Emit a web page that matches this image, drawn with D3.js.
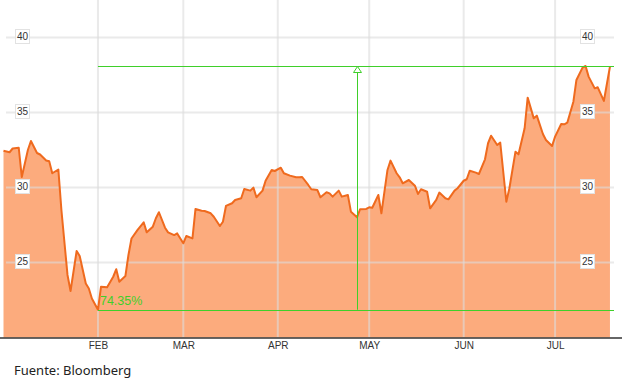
<!DOCTYPE html>
<html>
<head>
<meta charset="utf-8">
<script src="https://cdn.jsdelivr.net/npm/d3@7"></script>
<style>
  body { margin: 0; background: #fff; }
  #chart svg { display: block; }
</style>
</head>
<body>
<div id="chart"></div>
<script>
// price series
const dates = [
  '2015-01-01','2015-01-03','2015-01-04','2015-01-06','2015-01-07','2015-01-09','2015-01-10','2015-01-12',
  '2015-01-13','2015-01-15','2015-01-16','2015-01-17','2015-01-19','2015-01-20','2015-01-22','2015-01-23',
  '2015-01-25','2015-01-26','2015-01-28','2015-01-29','2015-01-30','2015-02-01','2015-02-02','2015-02-04',
  '2015-02-06','2015-02-07','2015-02-08','2015-02-10','2015-02-11','2015-02-12','2015-02-14','2015-02-16',
  '2015-02-17','2015-02-19','2015-02-20','2015-02-21','2015-02-23','2015-02-24','2015-02-26','2015-02-27',
  '2015-03-01','2015-03-02','2015-03-04','2015-03-05','2015-03-07','2015-03-08','2015-03-10','2015-03-11',
  '2015-03-13','2015-03-14','2015-03-15','2015-03-17','2015-03-18','2015-03-20','2015-03-21','2015-03-23',
  '2015-03-24','2015-03-25','2015-03-27','2015-03-28','2015-03-30','2015-03-31','2015-04-02','2015-04-03',
  '2015-04-05','2015-04-07','2015-04-08','2015-04-09','2015-04-11','2015-04-12','2015-04-14','2015-04-15',
  '2015-04-17','2015-04-18','2015-04-19','2015-04-21','2015-04-22','2015-04-24','2015-04-25','2015-04-27',
  '2015-04-28','2015-04-30','2015-05-01','2015-05-02','2015-05-04','2015-05-05','2015-05-07','2015-05-08',
  '2015-05-10','2015-05-11','2015-05-12','2015-05-14','2015-05-16','2015-05-17','2015-05-18','2015-05-20',
  '2015-05-21','2015-05-23','2015-05-24','2015-05-26','2015-05-27','2015-05-29','2015-05-30','2015-06-01',
  '2015-06-02','2015-06-03','2015-06-05','2015-06-06','2015-06-08','2015-06-09','2015-06-10','2015-06-12',
  '2015-06-13','2015-06-15','2015-06-16','2015-06-18','2015-06-19','2015-06-21','2015-06-22','2015-06-24',
  '2015-06-25','2015-06-27','2015-06-28','2015-06-30','2015-07-01','2015-07-03','2015-07-04','2015-07-05',
  '2015-07-07','2015-07-08','2015-07-10','2015-07-11','2015-07-12','2015-07-14','2015-07-15','2015-07-17',
  '2015-07-19'
];
const prices = [
  32.45, 32.35, 32.6, 32.65, 30.7, 32.5, 33.1, 32.3,
  32.2, 31.8, 31.75, 30.95, 31.2, 28.5, 24.17, 23.1,
  25.77, 25.43, 23.6, 23.27, 22.6, 21.85, 23.39, 23.35,
  24.05, 24.55, 23.72, 24.1, 25.5, 26.6, 27.17, 27.68,
  27.01, 27.39, 27.95, 28.35, 27.32, 27.01, 26.83, 26.94,
  26.28, 26.77, 26.61, 28.57, 28.45, 28.43, 28.28, 28.05,
  27.43, 27.72, 28.77, 28.95, 29.17, 29.28, 29.9, 29.79,
  29.99, 29.35, 29.79, 30.45, 31.17, 31.1, 31.32, 30.95,
  30.79, 30.68, 30.68, 30.7, 30.17, 29.88, 29.83, 29.35,
  29.68, 29.61, 29.39, 29.79, 29.39, 29.5, 28.39, 28.01,
  28.55, 28.57, 28.68, 28.65, 29.5, 28.28, 31.17, 31.79,
  30.95, 30.68, 30.28, 30.5, 30.12, 29.57, 29.88, 29.72,
  28.61, 29.17, 29.66, 29.28, 29.21, 29.79, 29.95, 30.45,
  30.55, 31.12, 30.99, 30.9, 31.88, 32.95, 33.45, 32.83,
  32.99, 29.05, 29.95, 32.39, 32.21, 33.95, 35.99, 34.61,
  34.79, 33.57, 33.17, 32.77, 33.39, 34.23, 34.21, 34.32,
  35.72, 37.17, 37.99, 38.1, 37.39, 36.61, 36.68, 35.77,
  38.05
];

const yTicks = [25, 30, 35, 40];
const monthTicks = ['2015-02-01', '2015-03-01', '2015-04-01', '2015-05-01', '2015-06-01', '2015-07-01'];
const monthLabels = ['FEB', 'MAR', 'APR', 'MAY', 'JUN', 'JUL'];

// annotation: low -> high gain
const gainStart = '2015-02-01';
const gainMarker = '2015-04-27';
const gainLow = 21.85;
const gainHigh = 38.1;
const gainLabel = '74.35%';
const source = 'Fuente: Bloomberg';

const drawChart = () => {
  const svgWidth = 622, svgHeight = 390;
  const parse = d3.timeParse('%Y-%m-%d');
  const data = dates.map((d, i) => ({ date: parse(d), price: prices[i] }));

  const svg = d3.select('#chart').append('svg')
    .attr('width', svgWidth)
    .attr('height', svgHeight);

  const x = d3.scaleTime()
    .domain([parse('2015-01-01'), parse('2015-07-20')])
    .range([3.5, 613]);
  const y = d3.scaleLinear().domain([20, 42.5]).range([337.5, 0]);

  const area = d3.area()
    .x(d => x(d.date))
    .y0(y(20))
    .y1(d => y(d.price));
  const line = d3.line()
    .x(d => x(d.date))
    .y(d => y(d.price));

  svg.append('path')
    .datum(data)
    .attr('fill', '#fcab7d')
    .attr('d', area);

  // grid over the area, faint
  const grid = svg.append('g')
    .attr('stroke', '#dcdcdc')
    .attr('stroke-opacity', 0.6)
    .attr('stroke-width', 2);
  grid.selectAll('line.h')
    .data(yTicks)
    .join('line')
    .attr('class', 'h')
    .attr('x1', 6).attr('x2', 614)
    .attr('y1', d => y(d)).attr('y2', d => y(d));
  grid.selectAll('line.v')
    .data(monthTicks)
    .join('line')
    .attr('class', 'v')
    .attr('x1', d => x(parse(d))).attr('x2', d => x(parse(d)))
    .attr('y1', 0).attr('y2', y(20));

  svg.append('path')
    .datum(data)
    .attr('fill', 'none')
    .attr('stroke', '#ef6a1e')
    .attr('stroke-width', 2)
    .attr('stroke-linejoin', 'round')
    .attr('d', line);

  // x axis
  const xAxis = svg.append('g')
    .attr('transform', `translate(0,${y(20)})`)
    .call(d3.axisBottom(x)
      .tickValues(monthTicks.map(parse))
      .tickFormat((d, i) => monthLabels[i])
      .tickSize(0)
      .tickPadding(4));
  xAxis.select('.domain')
    .attr('d', 'M0,0.5H622')
    .attr('stroke', '#333')
    .attr('stroke-width', 1.5);
  xAxis.selectAll('text')
    .attr('font-family', 'Arial, "Liberation Sans", sans-serif')
    .attr('font-size', 10)
    .attr('fill', '#333');

  // y labels, boxed, on both sides
  [22.5, 587.5].forEach(cx => {
    const lab = svg.append('g').selectAll('g')
      .data(yTicks)
      .join('g')
      .attr('transform', d => `translate(${cx},${y(d) - 1})`);
    lab.append('rect')
      .attr('x', -7).attr('y', -7)
      .attr('width', 14).attr('height', 14)
      .attr('fill', '#fff')
      .attr('stroke', '#e2e2e2');
    lab.append('text')
      .attr('text-anchor', 'middle')
      .attr('dy', '0.35em')
      .attr('font-family', 'Arial, "Liberation Sans", sans-serif')
      .attr('font-size', 10)
      .attr('fill', '#333')
      .text(d => d);
  });

  // gain annotation
  const green = '#3fcf2a';
  const xs = x(parse(gainStart)), xm = x(parse(gainMarker));
  svg.append('line')
    .attr('x1', xs).attr('x2', 614)
    .attr('y1', Math.round(y(gainHigh)) + 0.5).attr('y2', Math.round(y(gainHigh)) + 0.5)
    .attr('stroke', green);
  svg.append('line')
    .attr('x1', xs).attr('x2', 614)
    .attr('y1', Math.round(y(gainLow)) + 0.5).attr('y2', Math.round(y(gainLow)) + 0.5)
    .attr('stroke', green);
  svg.append('line')
    .attr('x1', Math.round(xm) + 0.5).attr('x2', Math.round(xm) + 0.5)
    .attr('y1', y(gainHigh)).attr('y2', y(gainLow))
    .attr('stroke', green);
  const ty = Math.round(y(gainHigh)) + 0.5;
  const tx = Math.round(xm) + 0.5;
  svg.append('path')
    .attr('d', `M${tx},${ty}L${tx + 4},${ty + 6}L${tx - 4},${ty + 6}Z`)
    .attr('fill', '#fff')
    .attr('stroke', green);
  svg.append('text')
    .attr('x', xs + 2)
    .attr('y', y(gainLow) - 5)
    .attr('font-family', 'Arial, "Liberation Sans", sans-serif')
    .attr('font-size', 12.5)
    .attr('fill', green)
    .text(gainLabel);

  svg.append('text')
    .attr('x', 14)
    .attr('y', 375)
    .attr('font-family', '"Noto Sans", "Open Sans", sans-serif')
    .attr('font-size', 13)
    .attr('fill', '#222')
    .text(source);
};

drawChart();
</script>
</body>
</html>
